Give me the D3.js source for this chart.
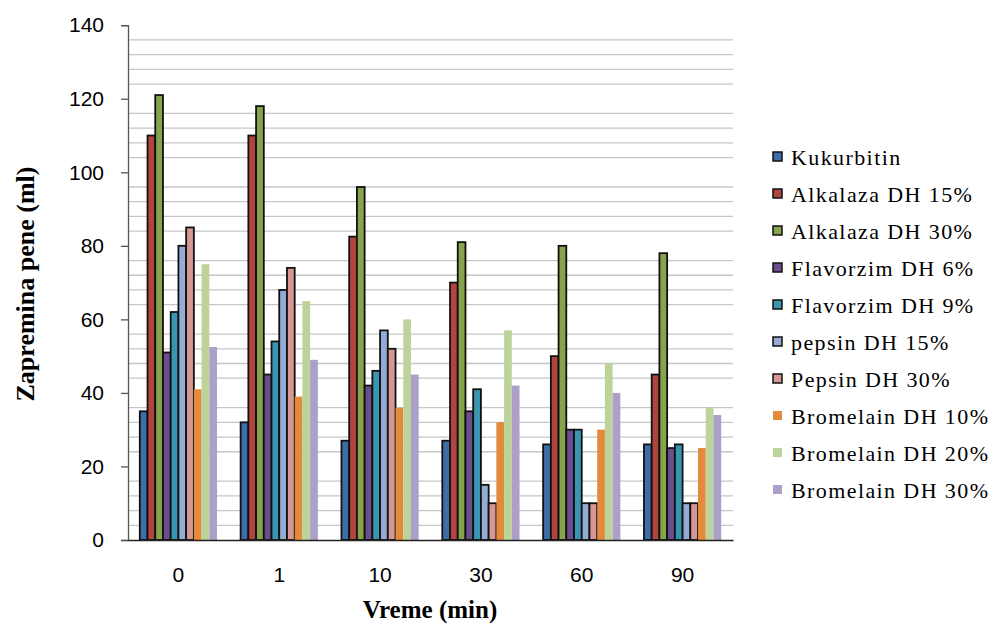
<!DOCTYPE html>
<html>
<head>
<meta charset="utf-8">
<script src="https://cdn.jsdelivr.net/npm/d3@7"></script>
<style>
  html, body { margin: 0; padding: 0; background: #fff; }
  svg { display: block; }
</style>
</head>
<body>
<svg id="chart" width="995" height="625"></svg>
<script>
// ---- data ----
const categories = ["0", "1", "10", "30", "60", "90"];
const seriesNames = [
  "Kukurbitin", "Alkalaza DH 15%", "Alkalaza DH 30%", "Flavorzim DH 6%",
  "Flavorzim DH 9%", "pepsin DH 15%", "Pepsin DH 30%",
  "Bromelain DH 10%", "Bromelain DH 20%", "Bromelain DH 30%"
];
const kukurbitin   = [35, 32, 27, 27, 26, 26];
const alkalaza15   = [110, 110, 82.5, 70, 50, 45];
const alkalaza30   = [121, 118, 96, 81, 80, 78];
const flavorzim6   = [51, 45, 42, 35, 30, 25];
const flavorzim9   = [62, 54, 46, 41, 30, 26];
const pepsin15     = [80, 68, 57, 15, 10, 10];
const pepsin30     = [85, 74, 52, 10, 10, 10];
const bromelain10  = [41, 39, 36, 32, 30, 25];
const bromelain20  = [75, 65, 60, 57, 48, 36];
const bromelain30  = [52.5, 49, 45, 42, 40, 34];
const seriesValues = [kukurbitin, alkalaza15, alkalaza30, flavorzim6, flavorzim9,
                      pepsin15, pepsin30, bromelain10, bromelain20, bromelain30];
const yTicks = [0, 20, 40, 60, 80, 100, 120, 140];

// ---- styles ----
const colors = ["#3d6ea8", "#b0443f", "#87a34b", "#6a4e8e", "#3996b0",
                "#94abd6", "#d69795", "#e48a3c", "#bcd49a", "#aca0c8"];
const outlined = [true, true, true, true, true, true, true, false, false, false];

const svg = d3.select("#chart");
const plotLeft = 128, plotRight = 733, plotTop = 25.2, plotBottom = 540;

const y = d3.scaleLinear().domain([0, 140]).range([plotBottom, plotTop]);
const x0 = d3.scaleBand().domain(categories).range([plotLeft, plotRight])
  .paddingInner(0.234).paddingOuter(0.117);
const x1 = d3.scaleBand().domain(d3.range(seriesNames.length)).range([0, x0.bandwidth()]);

// gridlines (minor every 4, skipping multiples of 20)
const gridVals = d3.range(4, 140, 4).filter(v => v % 20 !== 0);
svg.append("g").selectAll("line").data(gridVals).join("line")
  .attr("x1", plotLeft).attr("x2", plotRight)
  .attr("y1", d => y(d)).attr("y2", d => y(d))
  .attr("stroke", "#c6c6c6").attr("stroke-width", 1.3);

// bars
const groups = svg.append("g").selectAll("g").data(categories).join("g")
  .attr("transform", d => `translate(${x0(d)},0)`);
groups.selectAll("rect")
  .data((c, ci) => seriesValues.map((vals, si) => ({ si, v: vals[ci] })))
  .join("rect")
  .attr("x", d => x1(d.si))
  .attr("width", x1.bandwidth())
  .attr("y", d => y(d.v))
  .attr("height", d => y(0) - y(d.v))
  .attr("fill", d => colors[d.si])
  .attr("stroke", d => outlined[d.si] ? "#111" : "none")
  .attr("stroke-width", 1.8);

// y axis
const yAxis = d3.axisLeft(y).tickValues(yTicks).tickSize(7).tickPadding(17);
const ya = svg.append("g").attr("transform", `translate(${plotLeft},0)`).call(yAxis);
ya.select(".domain").attr("stroke", "#555").attr("stroke-width", 1.3);
ya.selectAll(".tick line").attr("stroke", "#555").attr("stroke-width", 1.3);
ya.selectAll(".tick text").attr("font-family", "'Liberation Sans', Arial, sans-serif")
  .attr("font-size", 21).attr("fill", "#000");

// x axis
const xAxis = d3.axisBottom(x0).tickSize(0).tickPadding(27);
const xa = svg.append("g").attr("transform", `translate(0,${plotBottom})`).call(xAxis);
xa.select(".domain").attr("stroke", "#222").attr("stroke-width", 1.3);
xa.selectAll(".tick text").attr("font-family", "'Liberation Sans', Arial, sans-serif")
  .attr("font-size", 21).attr("fill", "#000");

// axis titles
svg.append("text")
  .attr("transform", "translate(34,284) rotate(-90)")
  .attr("text-anchor", "middle")
  .attr("font-family", "'Liberation Serif', 'Times New Roman', serif")
  .attr("font-weight", "bold").attr("font-size", 26)
  .text("Zapremina pene (ml)");
svg.append("text")
  .attr("x", 430).attr("y", 618)
  .attr("text-anchor", "middle")
  .attr("font-family", "'Liberation Serif', 'Times New Roman', serif")
  .attr("font-weight", "bold").attr("font-size", 25)
  .text("Vreme (min)");

// legend
const legend = svg.append("g").selectAll("g").data(seriesNames).join("g")
  .attr("transform", (d, i) => `translate(773,${157 + i * 37})`);
legend.append("rect")
  .attr("x", 0).attr("y", -5).attr("width", 9).attr("height", 9)
  .attr("fill", (d, i) => colors[i])
  .attr("stroke", (d, i) => outlined[i] ? "#111" : "none")
  .attr("stroke-width", 1.5);
legend.append("text")
  .attr("x", 18).attr("y", 0).attr("dy", "0.35em")
  .attr("font-family", "'Liberation Serif', 'Times New Roman', serif")
  .attr("font-size", 22).attr("letter-spacing", 1.4)
  .text(d => d);
</script>
</body>
</html>
